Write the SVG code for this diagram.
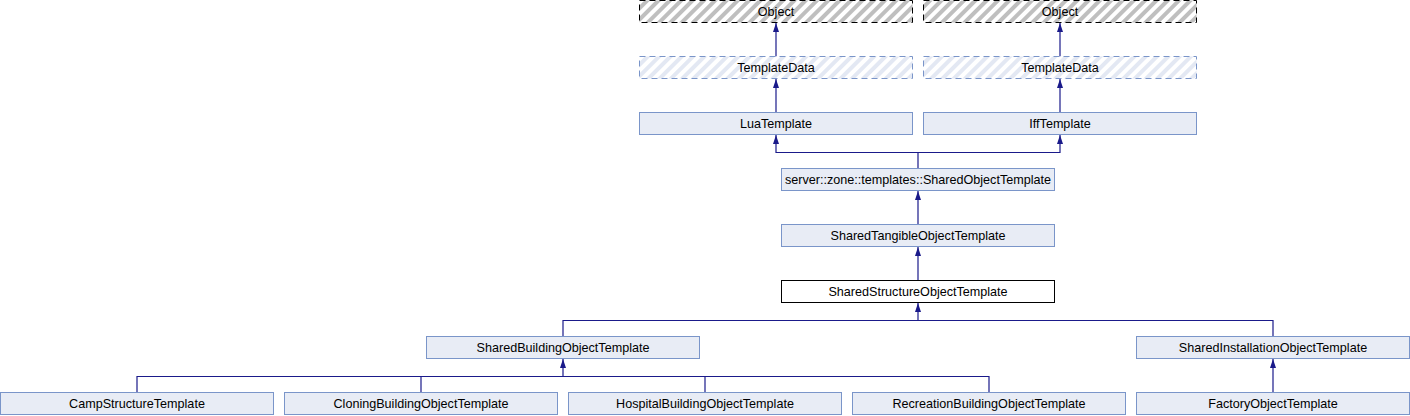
<svg xmlns="http://www.w3.org/2000/svg" width="1410" height="416" viewBox="0 0 1410 416">
<defs>
<pattern id="hatchGrey" patternUnits="userSpaceOnUse" width="8" height="8" patternTransform="rotate(45)">
<rect width="8" height="8" fill="#ffffff"/>
<rect width="4" height="8" fill="#bfbfbf"/>
</pattern>
<pattern id="hatchBlue" patternUnits="userSpaceOnUse" width="8" height="8" patternTransform="rotate(45)">
<rect width="8" height="8" fill="#ffffff"/>
<rect width="4" height="8" fill="#e3e8f3"/>
</pattern>
<marker id="arr" viewBox="0 0 9 8" refX="9" refY="4" markerWidth="9" markerHeight="8" markerUnits="userSpaceOnUse" orient="auto">
<path d="M0,1 L9,4 L0,7 z" fill="#1a1a8a"/>
</marker>
</defs>
<style>
.node rect{fill:#e8ecf5;stroke:#7a95c9;stroke-width:1}
.cur rect{fill:#ffffff;stroke:#000000;stroke-width:1}
.ext rect{fill:url(#hatchGrey);stroke:#000000;stroke-width:1;stroke-dasharray:6,4}
.ghost rect{fill:url(#hatchBlue);stroke:#7a95c9;stroke-width:1;stroke-dasharray:6,4}
text{font-family:"Liberation Sans",Arial,Helvetica,sans-serif;font-size:12.6px;fill:#000000;text-anchor:middle}
.edges path{fill:none;stroke:#1a1a8a;stroke-width:1.2}
</style>
<g class="edges">
<path d="M776,56.5 V23" marker-end="url(#arr)"/>
<path d="M1060,56.5 V23" marker-end="url(#arr)"/>
<path d="M776,112.5 V79" marker-end="url(#arr)"/>
<path d="M1060,112.5 V79" marker-end="url(#arr)"/>
<path d="M918,168.5 V152.5 H776 V135" marker-end="url(#arr)"/>
<path d="M918,152.5 H1060 V135" marker-end="url(#arr)"/>
<path d="M918,224.5 V191" marker-end="url(#arr)"/>
<path d="M918,280.5 V247" marker-end="url(#arr)"/>
<path d="M563,336.5 V320.5 H918 V303" marker-end="url(#arr)"/>
<path d="M918,320.5 H1273 V336.5"/>
<path d="M137,392.5 V376.5 H563 V359" marker-end="url(#arr)"/>
<path d="M421,392.5 V376.5"/>
<path d="M563,376.5 H989 V392.5"/>
<path d="M705,392.5 V376.5"/>
<path d="M1273,392.5 V359" marker-end="url(#arr)"/>
</g>
<g id="object1" class="ext"><rect x="639.5" y="0.5" width="273" height="22"/><text x="776" y="15.5">Object</text></g>
<g id="object2" class="ext"><rect x="923.5" y="0.5" width="273" height="22"/><text x="1060" y="15.5">Object</text></g>
<g id="templatedata1" class="ghost"><rect x="639.5" y="56.5" width="273" height="22"/><text x="776" y="71.5">TemplateData</text></g>
<g id="templatedata2" class="ghost"><rect x="923.5" y="56.5" width="273" height="22"/><text x="1060" y="71.5">TemplateData</text></g>
<g id="luatemplate" class="node"><rect x="639.5" y="112.5" width="273" height="22"/><text x="776" y="127.5">LuaTemplate</text></g>
<g id="ifftemplate" class="node"><rect x="923.5" y="112.5" width="273" height="22"/><text x="1060" y="127.5">IffTemplate</text></g>
<g id="sharedobjecttemplate" class="node"><rect x="781.5" y="168.5" width="273" height="22"/><text x="918" y="183.5">server::zone::templates::SharedObjectTemplate</text></g>
<g id="sharedtangible" class="node"><rect x="781.5" y="224.5" width="273" height="22"/><text x="918" y="239.5">SharedTangibleObjectTemplate</text></g>
<g id="sharedstructure" class="cur"><rect x="781.5" y="280.5" width="273" height="22"/><text x="918" y="295.5">SharedStructureObjectTemplate</text></g>
<g id="sharedbuilding" class="node"><rect x="426.5" y="336.5" width="273" height="22"/><text x="563" y="351.5">SharedBuildingObjectTemplate</text></g>
<g id="sharedinstallation" class="node"><rect x="1136.5" y="336.5" width="273" height="22"/><text x="1273" y="351.5">SharedInstallationObjectTemplate</text></g>
<g id="campstructure" class="node"><rect x="0.5" y="392.5" width="273" height="22"/><text x="137" y="407.5">CampStructureTemplate</text></g>
<g id="cloningbuilding" class="node"><rect x="284.5" y="392.5" width="273" height="22"/><text x="421" y="407.5">CloningBuildingObjectTemplate</text></g>
<g id="hospitalbuilding" class="node"><rect x="568.5" y="392.5" width="273" height="22"/><text x="705" y="407.5">HospitalBuildingObjectTemplate</text></g>
<g id="recreationbuilding" class="node"><rect x="852.5" y="392.5" width="273" height="22"/><text x="989" y="407.5">RecreationBuildingObjectTemplate</text></g>
<g id="factoryobject" class="node"><rect x="1136.5" y="392.5" width="273" height="22"/><text x="1273" y="407.5">FactoryObjectTemplate</text></g>
</svg>
